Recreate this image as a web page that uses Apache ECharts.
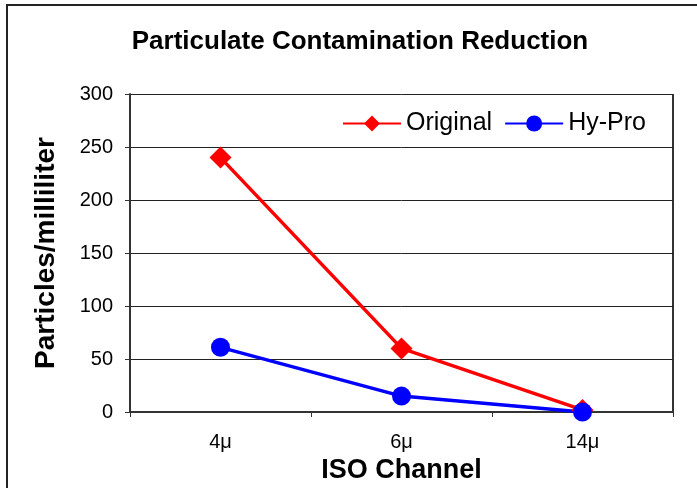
<!DOCTYPE html>
<html>
<head>
<meta charset="utf-8">
<script src="https://cdn.jsdelivr.net/npm/echarts@6/dist/echarts.min.js"></script>
<style>html,body{margin:0;padding:0;background:#fff;}#c{width:697px;height:488px;}</style>
</head>
<body>
<div id="c"></div>
<script>
var categories = ['4μ', '6μ', '14μ'];
var originalValues = [240, 60, 2];
var hyProValues = [61, 15, 0];
var yTicks = {min: 0, max: 300, interval: 50};

var chart = echarts.init(document.getElementById('c'), null, {renderer: 'canvas'});
var F = '"Liberation Sans", Arial, sans-serif';
chart.setOption({
  animation: false,
  backgroundColor: '#fff',
  title: {
    text: 'Particulate Contamination Reduction',
    left: 355, top: 24, textAlign: 'center',
    textStyle: {fontFamily: F, fontSize: 26, fontWeight: 'bold', color: '#000'}
  },
  graphic: [{
    type: 'rect', shape: {x: 7, y: 5, width: 720, height: 520},
    style: {fill: 'none', stroke: '#222', lineWidth: 2}, silent: true
  }, {
    type: 'line', shape: {x1: 673, y1: 94, x2: 673, y2: 412},
    style: {stroke: '#333', lineWidth: 2}, silent: true
  }],
  legend: {
    left: 342, top: 111, padding: 0, itemWidth: 58, itemHeight: 20, itemGap: 12,
    textStyle: {fontFamily: F, fontSize: 25, color: '#000'},
    data: ['Original', 'Hy-Pro']
  },
  grid: {left: 130, right: 24, top: 94, bottom: 76, containLabel: false, outerBoundsMode: 'none'},
  xAxis: {
    type: 'category', data: categories, boundaryGap: true,
    name: 'ISO Channel', nameLocation: 'middle', nameGap: 45,
    nameTextStyle: {fontFamily: F, fontSize: 27, fontWeight: 'bold', color: '#000'},
    axisLine: {lineStyle: {color: '#333', width: 2}},
    axisTick: {show: true, length: 5, inside: false, lineStyle: {color: '#333'}},
    axisLabel: {fontFamily: F, fontSize: 20, color: '#000', margin: 20},
    splitLine: {show: false}
  },
  yAxis: {
    type: 'value', min: yTicks.min, max: yTicks.max, interval: yTicks.interval,
    name: 'Particles/milliliter', nameLocation: 'middle', nameGap: 70, nameRotate: 90,
    nameTextStyle: {fontFamily: F, fontSize: 28, fontWeight: 'bold', color: '#000'},
    axisLine: {show: true, lineStyle: {color: '#333', width: 2}},
    axisTick: {show: true, length: 5, lineStyle: {color: '#333'}},
    axisLabel: {fontFamily: F, fontSize: 20, color: '#000', margin: 17},
    splitLine: {show: true, lineStyle: {color: '#222', width: 1}}
  },
  series: [
    {
      name: 'Original', type: 'line', data: originalValues,
      symbol: 'diamond', symbolSize: 22,
      lineStyle: {color: '#ff0000', width: 3.5},
      itemStyle: {color: '#ff0000'}
    },
    {
      name: 'Hy-Pro', type: 'line', data: hyProValues,
      symbol: 'circle', symbolSize: 19,
      lineStyle: {color: '#0000ff', width: 3.5},
      itemStyle: {color: '#0000ff'}
    }
  ]
});
</script>
</body>
</html>
